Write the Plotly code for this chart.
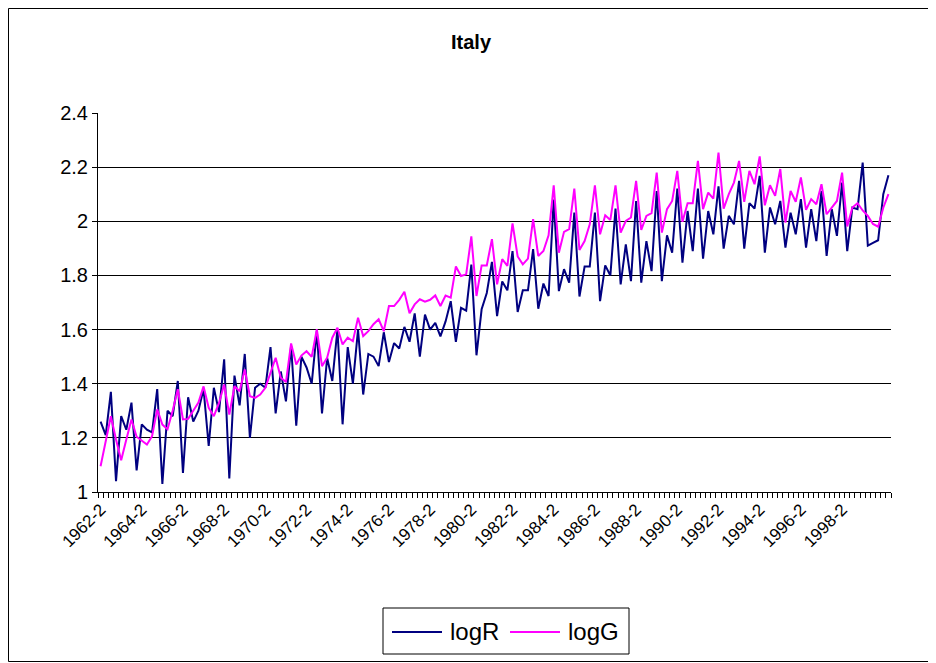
import plotly.graph_objects as go

# ---- data (quarterly, 1962-2 .. 2000-3) ----
start_year = 1962
start_quarter = 2
last_label = "1998-2"

logR = [1.26, 1.21, 1.37, 1.04, 1.28, 1.23, 1.33, 1.08, 1.25, 1.23,
        1.22, 1.38, 1.03, 1.30, 1.28, 1.41, 1.07, 1.35, 1.26, 1.30,
        1.38, 1.17, 1.385, 1.295, 1.49, 1.05, 1.43, 1.32, 1.51, 1.20,
        1.385, 1.40, 1.385, 1.535, 1.29, 1.445, 1.335, 1.54, 1.245, 1.50,
        1.46, 1.40, 1.595, 1.29, 1.495, 1.41, 1.60, 1.25, 1.535, 1.40,
        1.60, 1.36, 1.51, 1.50, 1.465, 1.59, 1.48, 1.55, 1.53, 1.61,
        1.555, 1.66, 1.50, 1.655, 1.60, 1.625, 1.575, 1.63, 1.705, 1.555,
        1.68, 1.67, 1.84, 1.505, 1.675, 1.735, 1.85, 1.65, 1.778, 1.745,
        1.89, 1.665, 1.745, 1.745, 1.897, 1.677, 1.77, 1.724, 2.08, 1.742,
        1.823, 1.773, 2.032, 1.722, 1.833, 1.833, 2.032, 1.705, 1.837, 1.80,
        2.047, 1.767, 1.915, 1.779, 2.075, 1.773, 1.927, 1.816, 2.112, 1.779,
        1.948, 1.884, 2.121, 1.847, 2.038, 1.89, 2.121, 1.862, 2.038, 1.952,
        2.129, 1.899, 2.02, 1.989, 2.149, 1.899, 2.067, 2.047, 2.168, 1.884,
        2.051, 1.989, 2.075, 1.903, 2.032, 1.952, 2.082, 1.903, 2.045, 1.927,
        2.112, 1.872, 2.045, 1.946, 2.143, 1.89, 2.051, 2.045, 2.217, 1.91,
        1.92, 1.93, 2.10, 2.17]

logG = [1.095, 1.187, 1.28, 1.194, 1.117, 1.194, 1.268, 1.204, 1.19, 1.175,
        1.206, 1.305, 1.249, 1.232, 1.30, 1.38, 1.268, 1.27, 1.30, 1.33,
        1.39, 1.311, 1.28, 1.329, 1.397, 1.286, 1.391, 1.372, 1.453, 1.354,
        1.348, 1.36, 1.385, 1.44, 1.496, 1.422, 1.406, 1.549, 1.471, 1.504,
        1.52, 1.499, 1.601, 1.465, 1.496, 1.57, 1.607, 1.545, 1.57, 1.557,
        1.644, 1.576, 1.594, 1.62, 1.638, 1.594, 1.687, 1.687, 1.71, 1.74,
        1.66, 1.693, 1.712, 1.703, 1.71, 1.726, 1.687, 1.726, 1.718, 1.833,
        1.798, 1.804, 1.944, 1.724, 1.837, 1.837, 1.934, 1.767, 1.86, 1.835,
        1.992, 1.87, 1.841, 1.862, 2.008, 1.872, 1.89, 1.948, 2.133, 1.884,
        1.961, 1.971, 2.121, 1.894, 1.927, 1.989, 2.133, 1.952, 2.022, 2.005,
        2.133, 1.958, 2.001, 2.014, 2.149, 1.968, 2.02, 2.03, 2.18, 1.958,
        2.045, 2.075, 2.186, 1.998, 2.067, 2.067, 2.223, 2.045, 2.106, 2.084,
        2.254, 2.047, 2.10, 2.143, 2.223, 2.072, 2.186, 2.137, 2.24, 2.059,
        2.133, 2.094, 2.193, 1.995, 2.112, 2.072, 2.162, 2.042, 2.082, 2.063,
        2.137, 2.026, 2.051, 2.075, 2.18, 1.981, 2.051, 2.067, 2.04, 2.02,
        1.99, 1.98, 2.05, 2.10]

series_names = ["logR", "logG"]
series_colors = ["#000080", "#FF00FF"]

# category labels "YYYY-Q"
categories = []
yy, qq = start_year, start_quarter
for _ in range(len(logR)):
    categories.append(f"{yy}-{qq}")
    qq += 1
    if qq > 4:
        qq = 1
        yy += 1

label_step = 8
idx = list(range(len(categories)))
last_pos = categories.index(last_label)
tick_idx = idx[:last_pos + 1:label_step]
tick_text = [categories[i] for i in tick_idx]

FONT = "Liberation Sans, Arial, sans-serif"

fig = go.Figure()
for name, vals, col in zip(series_names, [logR, logG], series_colors):
    fig.add_trace(go.Scatter(x=idx, y=vals, mode="lines", name=name,
                             line=dict(color=col, width=2),
                             customdata=categories,
                             hovertemplate="%{customdata}: %{y}<extra>" + name + "</extra>"))

# page body has an 8px margin, so the figure is sized to fit the window
W, H = 928, 655
L, R, T, B = 90, 45, 105, 171
pw, ph = W - L - R, H - T - B


def px(x):
    return (x - L) / pw


def py(y):
    return (T + ph - y) / ph


# hand-drawn legend box (Excel style, longer line samples)
leg_box = (375, 600, 621, 646)
leg_y = 624
leg_items = [(384, 434, 440), (502, 552, 558)]

shapes = [
    dict(type="rect", xref="paper", yref="paper",
         x0=px(0.5), x1=px(W - 1.5), y0=py(H - 1.5), y1=py(0.5),
         line=dict(color="black", width=1), fillcolor="rgba(0,0,0,0)", layer="below"),
    dict(type="rect", xref="paper", yref="paper",
         x0=px(leg_box[0]), x1=px(leg_box[2]), y0=py(leg_box[3]), y1=py(leg_box[1]),
         line=dict(color="black", width=1), fillcolor="white", layer="above"),
]
annotations = []
for (lx0, lx1, tx), name, col in zip(leg_items, series_names, series_colors):
    shapes.append(dict(type="line", xref="paper", yref="paper",
                       x0=px(lx0), x1=px(lx1), y0=py(leg_y), y1=py(leg_y),
                       line=dict(color=col, width=2), layer="above"))
    annotations.append(dict(xref="paper", yref="paper", x=px(tx), y=py(leg_y - 1),
                            xanchor="left", yanchor="middle", showarrow=False,
                            text=name, font=dict(family=FONT, size=24, color="black")))

fig.update_layout(
    width=W, height=H, autosize=False,
    margin=dict(l=L, r=R, t=T, b=B, pad=0),
    paper_bgcolor="white", plot_bgcolor="white",
    font=dict(family=FONT, size=16, color="black"),
    title=dict(text="<b>Italy</b>", x=463 / W, xanchor="center",
               y=1 - 34 / H, yanchor="middle",
               font=dict(family=FONT, size=20, color="black")),
    showlegend=False,
    xaxis=dict(range=[-0.5, len(categories) - 0.5],
               tickmode="array", tickvals=tick_idx, ticktext=tick_text,
               tickangle=-45, ticks="", showgrid=False, zeroline=False,
               showline=True, linecolor="black", linewidth=1,
               tickfont=dict(family=FONT, size=17, color="black"),
               minor=dict(ticks="outside", ticklen=5, tickcolor="black",
                          tickwidth=1, tick0=-0.5, dtick=1, showgrid=False)),
    yaxis=dict(range=[1, 2.4], dtick=0.2, tick0=1,
               showgrid=True, gridcolor="black", gridwidth=1,
               zeroline=False, showline=True, linecolor="black", linewidth=1,
               ticks="outside", ticklen=5, tickcolor="black",
               tickfont=dict(family=FONT, size=20, color="black")),
    shapes=shapes,
    annotations=annotations,
)

fig.write_html("out.html")
